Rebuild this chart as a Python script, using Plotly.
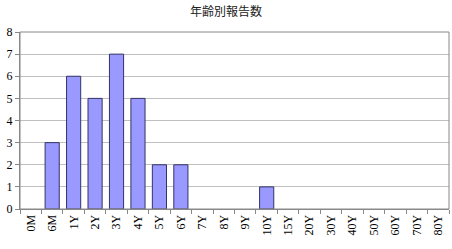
import plotly.graph_objects as go

categories = ["0M","6M","1Y","2Y","3Y","4Y","5Y","6Y","7Y","8Y","9Y","10Y","15Y","20Y","30Y","40Y","50Y","60Y","70Y","80Y"]
counts = [None,3,6,5,7,5,2,2,None,None,None,1,None,None,None,None,None,None,None,None]
title = "年齢別報告数"

fig = go.Figure(go.Bar(
    x=categories, y=counts,
    marker=dict(color="#9999FF", line=dict(color="#333366", width=1)),
))
fig.update_layout(
    width=452, height=249,
    margin=dict(l=20, r=3, t=32, b=40),
    paper_bgcolor="white", plot_bgcolor="white",
    bargap=0.34,
    showlegend=False,
    title=dict(text=title, x=0.5, xanchor="center", y=0.952, yanchor="middle",
               font=dict(family="Noto Sans CJK JP", size=12, color="#222")),
    font=dict(family="Liberation Serif", size=12, color="black"),
)
fig.update_xaxes(
    type="category", tickangle=-90, tickson="boundaries", ticks="outside",
    ticklen=4, tickcolor="#888", showline=True, linecolor="#888", mirror=False,
    showgrid=False, tickfont=dict(family="Liberation Serif", size=12),
)
fig.update_yaxes(
    range=[0, 8], dtick=1, showgrid=True, gridcolor="#c0c0c0", gridwidth=1,
    showline=True, linecolor="#888", ticks="outside", ticklen=4, tickcolor="#888",
    zeroline=False, tickfont=dict(family="Liberation Serif", size=12),
)
fig.add_shape(type="rect", xref="paper", yref="paper", x0=0, y0=0, x1=1, y1=1,
              line=dict(color="#888", width=1), layer="above")
fig.write_html("out.html")
